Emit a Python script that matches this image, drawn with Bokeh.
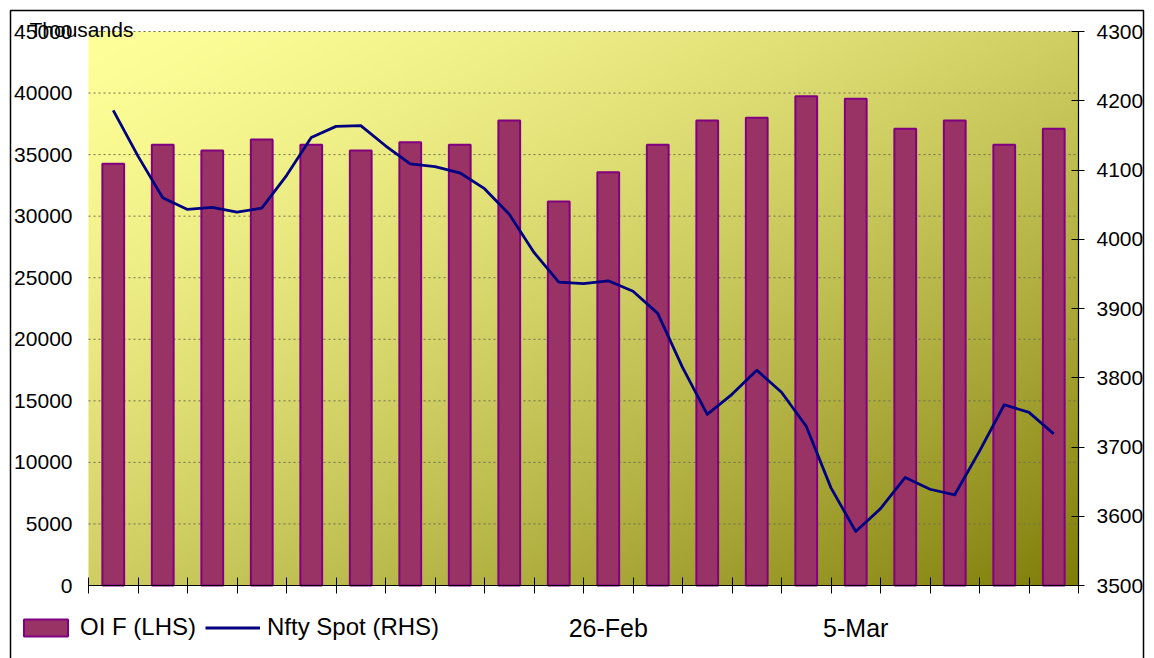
import numpy as np
from bokeh.plotting import figure
from bokeh.models import (Range1d, LinearAxis, FixedTicker, Legend, LegendItem,
                          Label, BoxAnnotation)
from bokeh.embed import file_html
from bokeh.resources import INLINE

# Trading sessions on the category axis
days = ["9-Feb", "12-Feb", "13-Feb", "14-Feb", "15-Feb", "19-Feb", "20-Feb",
        "21-Feb", "22-Feb", "23-Feb", "26-Feb", "27-Feb", "28-Feb", "1-Mar",
        "2-Mar", "5-Mar", "6-Mar", "7-Mar", "8-Mar", "9-Mar"]
labelled_days = ["26-Feb", "5-Mar"]

# Open interest in futures (thousands), left axis
oi_futures = [34250, 35800, 35330, 36230, 35800, 35330, 36000, 35800, 37770, 31200,
              33570, 35800, 37770, 38000, 39750, 39530, 37100, 37770, 35800, 37100]

# Nifty spot, sampled twice per session, right axis
nifty_spot = [4186, 4120, 4060, 4043, 4046, 4039, 4045, 4092, 4147, 4163,
              4164, 4135, 4109, 4105, 4096, 4073, 4036, 3981, 3938, 3936,
              3940, 3925, 3893, 3815, 3747, 3776, 3811, 3779, 3730, 3641,
              3578, 3611, 3656, 3639, 3631, 3694, 3761, 3750, 3719]

left_ticks = list(range(0, 45001, 5000))
right_ticks = list(range(3500, 4301, 100))

FONT = "Liberation Sans"
n = len(days)

# Page geometry (pixels): canvas, plotting area inside it
W, H = 1154, 658
AX0, AX1 = 88, 1078        # plotting area left / right
AY0, AY1 = 31, 585         # plotting area top / bottom

def span_range(lo, hi, p_lo, p_hi, p_min, p_max):
    """Data range covering the whole canvas so that lo..hi lands on p_lo..p_hi."""
    k = (hi - lo) / (p_hi - p_lo)
    return lo - (p_lo - p_min) * k, hi + (p_max - p_hi) * k

x0, x1 = span_range(0, n, AX0, AX1, 0, W)
y0, y1 = span_range(left_ticks[0], left_ticks[-1], H - AY1, H - AY0, 0, H)
r0, r1 = span_range(right_ticks[0], right_ticks[-1], H - AY1, H - AY0, 0, H)

def px_x(px):
    return x0 + (x1 - x0) * px / W

def px_y(py):
    return y0 + (y1 - y0) * (H - py) / H

p = figure(width=W, height=H, output_backend="svg", toolbar_location=None,
           x_range=Range1d(x0, x1), y_range=Range1d(y0, y1),
           min_border=0, min_border_left=0, min_border_right=0,
           min_border_top=0, min_border_bottom=0,
           background_fill_color="white", border_fill_color="white",
           outline_line_color=None)
p.title.visible = False
p.extra_y_ranges = {"nifty": Range1d(r0, r1)}
p.xgrid.visible = False
p.ygrid.visible = False

# Diagonal yellow-to-olive fill of the plotting area
nx, ny = 330, 185
u = np.linspace(0, 1, nx)[None, :]
v = np.linspace(1, 0, ny)[:, None]          # row 0 is the bottom of the area
t = ((u + v) / 2.0) ** 1.4
c0 = np.array([255, 255, 153], dtype=float)
c1 = np.array([128, 126, 10], dtype=float)
rgb = c0[None, None, :] + (c1 - c0)[None, None, :] * t[..., None]
img = np.empty((ny, nx), dtype=np.uint32)
view = img.view(dtype=np.uint8).reshape((ny, nx, 4))
view[..., 0] = rgb[..., 0].astype(np.uint8)
view[..., 1] = rgb[..., 1].astype(np.uint8)
view[..., 2] = rgb[..., 2].astype(np.uint8)
view[..., 3] = 255
p.image_rgba(image=[img], x=0, y=left_ticks[0], dw=n,
             dh=left_ticks[-1] - left_ticks[0], level="image")

# Dotted value gridlines across the plotting area
p.segment(x0=[0] * len(left_ticks), x1=[n] * len(left_ticks),
          y0=left_ticks, y1=left_ticks, line_color="#6f6f50",
          line_dash="2 3", line_width=1)

# Bars: OI in futures
bar_x = [i + 0.5 for i in range(n)]
bars = p.vbar(x=bar_x, top=oi_futures, bottom=0, width=0.44,
              fill_color="#993366", line_color="#800080", line_width=2)

# Line: Nifty spot on the secondary axis
line_x = [0.5 + 0.5 * k for k in range(len(nifty_spot))]
line = p.line(x=line_x, y=nifty_spot, y_range_name="nifty",
              line_color="#000080", line_width=2.8, line_join="round")

# Left axis: labels only, pinned to the plotting area edge
la = p.yaxis[0]
la.fixed_location = 0
la.bounds = (left_ticks[0], left_ticks[-1])
la.ticker = FixedTicker(ticks=left_ticks)
la.major_label_overrides = {v_: str(v_) for v_ in left_ticks}
la.axis_line_color = None
la.major_tick_line_color = None
la.minor_tick_line_color = None
la.major_tick_in = 0
la.major_tick_out = 0
la.major_label_standoff = 16
la.major_label_text_font = FONT
la.major_label_text_font_size = "21px"
la.major_label_text_color = "black"

# Right axis for Nifty
ra = LinearAxis(y_range_name="nifty", ticker=FixedTicker(ticks=right_ticks))
ra.fixed_location = n
ra.bounds = (right_ticks[0], right_ticks[-1])
ra.major_label_overrides = {v_: str(v_) for v_ in right_ticks}
ra.axis_line_color = "black"
ra.axis_line_width = 1.2
ra.major_tick_line_color = "black"
ra.major_tick_in = 7
ra.major_tick_out = 6
ra.minor_tick_line_color = None
ra.major_label_standoff = 12
ra.major_label_text_font = FONT
ra.major_label_text_font_size = "21px"
ra.major_label_text_color = "black"
p.add_layout(ra, "right")

# Category axis: boundary ticks, labels at selected sessions
xa = p.xaxis[0]
xa.fixed_location = 0
xa.bounds = (0, n)
label_pos = [days.index(d) + 0.5 for d in labelled_days]
xa.ticker = FixedTicker(ticks=label_pos, minor_ticks=list(range(n + 1)))
xa.major_label_overrides = {pos: d for pos, d in zip(label_pos, labelled_days)}
xa.axis_line_color = "black"
xa.axis_line_width = 1.2
xa.major_tick_line_color = None
xa.major_tick_in = 0
xa.major_tick_out = 8
xa.minor_tick_line_color = "black"
xa.minor_tick_in = 8
xa.minor_tick_out = 8
xa.major_label_standoff = 20
xa.major_label_text_font = FONT
xa.major_label_text_font_size = "25px"
xa.major_label_text_color = "black"

# Unit caption above the left axis
p.add_layout(Label(x=px_x(29), y=px_y(29), text="Thousands", text_align="left",
                   text_baseline="middle", text_font=FONT,
                   text_font_size="21px", text_color="black"))

# Legend along the bottom left
legend = Legend(items=[LegendItem(label="OI F (LHS)", renderers=[bars]),
                       LegendItem(label="Nfty Spot (RHS)", renderers=[line])],
                location=(18, H - 641), orientation="horizontal",
                glyph_width=55, glyph_height=21, label_height=28,
                label_standoff=7, spacing=9, padding=0, margin=0,
                border_line_color=None, background_fill_alpha=0,
                label_text_font=FONT, label_text_font_size="24px",
                label_text_color="black")
p.add_layout(legend)

# Chart border
p.add_layout(BoxAnnotation(left=px_x(10), right=px_x(1143),
                           top=px_y(10), bottom=px_y(H + 20), fill_alpha=0,
                           line_color="black", line_alpha=1.0, line_width=1.5))

open("out.html", "w").write(file_html(p, INLINE))
